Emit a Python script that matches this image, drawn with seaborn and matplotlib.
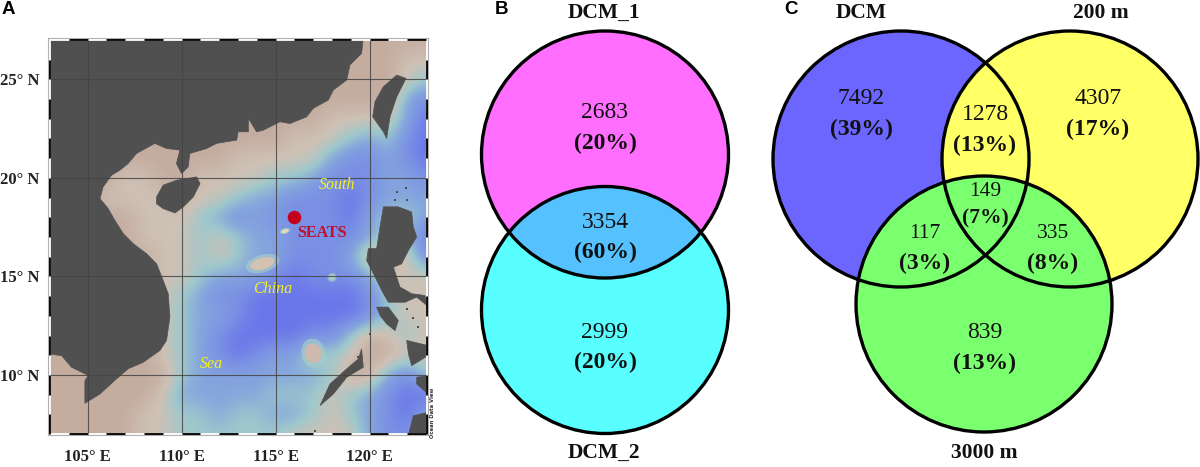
import numpy as np
import seaborn as sns
import matplotlib.pyplot as plt
from matplotlib.patches import Circle, Ellipse, Polygon

sns.set_theme(style='white')
plt.rcParams['font.family'] = ['Liberation Serif', 'DejaVu Sans']

# bathymetry class, 0 = shelf ... 5 = deep basin
depth_27 = [0, 0, 0, 0, 0, 0, 0, 0, 0, 0, 0, 0, 0, 0, 0, 0, 0, 0, 0, 0, 0]
depth_26 = [0, 0, 0, 0, 0, 0, 0, 0, 0, 0, 0, 0, 0, 0, 0, 0, 0, 0, 0, 1, 1]
depth_25 = [0, 0, 0, 0, 0, 0, 0, 0, 0, 0, 0, 0, 0, 0, 0, 0, 0, 0, 0, 1, 2]
depth_24 = [0, 0, 0, 0, 0, 0, 0, 0, 0, 0, 0, 0, 0, 0, 0, 0, 0, 0, 0, 3, 4]
depth_23 = [0, 0, 0, 0, 0, 0, 0, 0, 0, 0, 0, 0, 0, 0, 0, 1, 1, 1, 1, 3, 5]
depth_22 = [0, 0, 0, 0, 0, 0, 0, 0, 0, 0, 0, 0, 0, 1, 1, 1, 2, 3, 2, 4, 5]
depth_21 = [0, 0, 0, 0, 0, 0, 0, 0, 0, 0, 1, 1, 1, 1, 1, 3, 4, 4, 3, 4, 5]
depth_20 = [0, 0, 0, 0, 1, 1, 0, 0, 1, 1, 1, 1, 2, 2, 3, 4, 4, 4, 3, 3, 4]
depth_19 = [0, 0, 0, 1, 1, 1, 1, 0, 1, 1, 2, 3, 3, 4, 4, 4, 5, 4, 3, 3, 3]
depth_18 = [0, 0, 0, 0, 0, 1, 1, 1, 2, 3, 4, 3, 4, 4, 4, 4, 5, 3, 2, 2, 3]
depth_17 = [0, 0, 0, 0, 0, 1, 1, 1, 2, 1, 2, 3, 3, 4, 4, 4, 4, 3, 2, 2, 5]
depth_16 = [0, 0, 0, 0, 0, 0, 1, 1, 2, 1, 2, 3, 3, 4, 4, 4, 3, 0, 0, 1, 4]
depth_15 = [0, 0, 0, 0, 0, 0, 1, 1, 2, 3, 3, 3, 4, 5, 4, 4, 4, 3, 1, 1, 1]
depth_14 = [0, 0, 0, 0, 0, 0, 1, 2, 3, 4, 4, 5, 5, 5, 5, 5, 5, 4, 2, 1, 1]
depth_13 = [0, 0, 0, 0, 0, 0, 1, 2, 3, 3, 4, 5, 5, 5, 5, 5, 5, 4, 2, 1, 1]
depth_12 = [0, 0, 0, 0, 0, 0, 1, 2, 3, 4, 5, 5, 5, 5, 4, 4, 2, 0, 1, 2, 1]
depth_11 = [0, 0, 0, 0, 0, 0, 1, 2, 3, 4, 5, 4, 3, 3, 1, 2, 1, 0, 0, 1, 1]
depth_10 = [0, 0, 0, 0, 0, 0, 0, 2, 3, 3, 3, 3, 3, 3, 3, 2, 0, 0, 3, 4, 2]
depth_09 = [0, 0, 0, 0, 0, 0, 1, 3, 3, 3, 3, 3, 2, 2, 2, 1, 2, 3, 4, 5, 5]
depth_08 = [0, 0, 0, 0, 0, 1, 1, 2, 2, 3, 2, 2, 3, 3, 2, 1, 2, 3, 4, 5, 3]
depth_07 = [0, 0, 0, 0, 0, 1, 1, 2, 2, 2, 2, 2, 2, 1, 1, 1, 1, 3, 4, 4, 3]

# small shoals the one degree grid misses
shoal_lon = [114.3, 115.5, 118.0, 117.0]
shoal_lat = [15.65, 17.3, 14.95, 11.1]
shoal_w = [1.3, 0.4, 0.35, 0.9]
shoal_h = [0.6, 0.2, 0.3, 1.0]
shoal_col = ['#d4c2b2', '#dcdcc0', '#a5cbcb', '#cdb9ae']

# coastlines (lon, lat)
mainland = [(119.66, 27.1), (119.57, 26.32), (118.95, 25.73), (118.78, 24.97), (118.07, 24.46),
            (117.8, 23.95), (117.0, 23.53), (116.65, 23.1), (115.76, 22.76), (115.23, 22.85),
            (114.34, 22.42), (113.99, 22.34), (113.55, 23.02), (113.55, 22.34), (113.01, 22.34),
            (112.93, 21.92), (111.86, 21.75), (111.33, 21.49), (110.44, 21.24), (110.35, 20.56),
            (110.0, 20.22), (109.73, 20.73), (109.91, 21.41), (109.2, 21.49), (108.58, 21.75),
            (107.61, 21.24), (107.16, 20.73), (106.72, 20.39), (106.28, 20.14), (105.83, 19.54),
            (105.66, 18.95), (106.1, 18.44), (106.45, 17.85), (106.9, 17.17), (107.43, 16.66),
            (108.14, 16.15), (108.67, 15.64), (109.02, 14.8), (109.29, 14.12), (109.38, 12.93),
            (109.2, 11.75), (108.85, 11.24), (107.96, 10.64), (107.16, 10.31), (106.54, 9.8),
            (105.66, 9.03), (104.86, 8.56), (104.86, 9.71), (105.04, 9.97), (104.15, 10.39),
            (103.62, 10.98), (102.9, 11.07), (102.9, 27.1)]
hainan = [(108.67, 19.03), (109.02, 19.63), (109.73, 19.88), (110.8, 20.05), (110.98, 19.71),
          (110.62, 19.03), (110.09, 18.53), (109.65, 18.22), (109.02, 18.44), (108.67, 18.69)]
taiwan = [(121.44, 25.22), (121.93, 25.05), (121.44, 24.12), (121.08, 23.1), (120.9, 22.0),
          (120.73, 22.34), (120.16, 23.1), (120.28, 23.86), (120.73, 24.63)]
luzon = [(120.73, 18.53), (121.52, 18.53), (122.23, 18.27), (122.32, 17.51), (122.5, 17.0),
         (122.06, 16.32), (121.7, 15.64), (121.26, 15.47), (121.61, 14.46), (122.23, 14.12),
         (122.94, 14.03), (123.03, 13.53), (122.5, 13.95), (121.88, 13.69), (120.99, 13.69),
         (120.64, 14.29), (120.2, 15.14), (119.84, 15.81), (119.93, 16.41), (120.37, 16.41),
         (120.55, 17.51)]
mindoro = [(120.37, 13.44), (120.99, 13.44), (121.52, 12.76), (121.35, 12.25), (120.9, 12.59),
           (120.55, 13.02)]
palawan = [(119.57, 11.32), (119.66, 10.39), (118.78, 9.88), (118.07, 9.03), (117.36, 8.44),
           (117.89, 9.54), (118.78, 10.31), (119.4, 10.81)]
panay = [(121.97, 11.75), (123.1, 11.49), (123.1, 10.98), (122.23, 10.47), (122.06, 11.07)]
negros = [(122.5, 9.88), (123.1, 9.97), (123.1, 9.03), (122.5, 9.54)]
mindanao = [(122.06, 6.95), (122.32, 7.93), (123.1, 8.1), (123.1, 6.95)]
islets_lon = [121.44, 121.93, 121.97, 121.35, 120.02, 121.97, 122.59, 117.09, 119.4, 122.3]
islets_lat = [19.29, 19.5, 18.9, 18.86, 12.08, 13.36, 12.42, 7.17, 10.9, 12.9]

map_lon_ticks = [105, 110, 115, 120]
map_lat_ticks = [10, 15, 20, 25]
seats_lon = [116]
seats_lat = [18]
sea_names = ['South', 'China', 'Sea']
sea_lon = [118.24, 114.84, 111.61]
sea_lat = [19.63, 14.37, 10.53]

# venn panel B
b_names = ['DCM_1', 'DCM_2']
b_counts = [2683, 3354, 2999]
b_pcts = [20, 60, 20]
# venn panel C
c_names = ['DCM', '200 m', '3000 m']
c_counts = [7492, 1278, 4307, 149, 117, 335, 839]
c_pcts = [39, 13, 17, 7, 3, 8, 13]

fig = plt.figure(figsize=(12, 4.67), dpi=100)
W, H = 1200, 467

# ---- map
ax = fig.add_axes([48 / W, 1 - 435 / H, 380 / W, 397 / H])
depth = np.array([depth_27, depth_26, depth_25, depth_24, depth_23, depth_22, depth_21,
                  depth_20, depth_19, depth_18, depth_17, depth_16, depth_15, depth_14,
                  depth_13, depth_12, depth_11, depth_10, depth_09, depth_08, depth_07])
sea_cmap = sns.blend_palette(['#c4ac9f', '#cec1b5', '#9fc8cc', '#84a4de', '#7a90e4', '#6a76ea'],
                             n_colors=14, as_cmap=True)
# one cell per degree, centred on the whole degree
ax.imshow(depth, cmap=sea_cmap, vmin=0, vmax=5, interpolation='bicubic', aspect='auto',
          extent=(102.5, 123.5, 6.5, 27.5), zorder=1)
for lon, lat, w, h, col in zip(shoal_lon, shoal_lat, shoal_w, shoal_h, shoal_col):
    ax.add_patch(Ellipse((lon, lat), w * 1.4, h * 1.5, angle=15, fc='#a5cbcb', ec='none', alpha=0.7, zorder=1.5))
    ax.add_patch(Ellipse((lon, lat), w, h, angle=15, fc=col, ec='none', zorder=1.6))
for shape in [mainland, hainan, taiwan, luzon, mindoro, palawan, panay, negros, mindanao]:
    ax.add_patch(Polygon(shape, closed=True, fc='#505050', ec='#505050', lw=0.5, zorder=2))
ax.scatter(islets_lon, islets_lat, s=3, color='#505050', marker='s', linewidths=0, zorder=2)

ax.set_xlim(102.9, 123.1)
ax.set_ylim(6.95, 27.1)
for lon in map_lon_ticks:
    ax.axvline(lon, color='#444444', lw=0.8, alpha=0.85, zorder=3)
for lat in map_lat_ticks:
    ax.axhline(lat, color='#444444', lw=0.8, alpha=0.85, zorder=3)

ax.set_xticks(map_lon_ticks)
ax.set_xticklabels([f'{v}° E' for v in map_lon_ticks], fontsize=12, fontweight='bold', color='#222222')
ax.set_yticks(map_lat_ticks)
ax.set_yticklabels([f'{v}° N' for v in map_lat_ticks], fontsize=12, fontweight='bold', color='#222222')
ax.tick_params(axis='x', length=0, pad=10)
ax.tick_params(axis='y', length=0, pad=6)
for s in ax.spines.values():
    s.set_color('#b0b0b0')
    s.set_linewidth(0.8)
    s.set_zorder(6)

# dashed black and white frame, one degree per dash
frame_top, frame_bottom = 27.05, 7.0
frame_left, frame_right = 102.95, 123.05
for y in [frame_top, frame_bottom]:
    ax.plot([102.9, 123.1], [y, y], color='white', lw=2, solid_capstyle='butt', zorder=4)
for x in [frame_left, frame_right]:
    ax.plot([x, x], [6.95, 27.1], color='white', lw=2, solid_capstyle='butt', zorder=4)
for start in range(104, 124, 2):
    for y in [frame_top, frame_bottom]:
        ax.plot([start, min(start + 1, 123.1)], [y, y], color='black', lw=2, solid_capstyle='butt', zorder=5)
for start in range(7, 27, 2):
    for x in [frame_left, frame_right]:
        ax.plot([x, x], [start, start + 1], color='black', lw=2, solid_capstyle='butt', zorder=5)

sns.scatterplot(x=seats_lon, y=seats_lat, s=95, color='#c4001a', linewidth=0, ax=ax, zorder=7, legend=False)
ax.text(117.45, 17.22, 'SEATS', color='#c0102a', fontsize=11.5, fontweight='bold', ha='center', va='center', zorder=7)
for name, lon, lat in zip(sea_names, sea_lon, sea_lat):
    ax.text(lon, lat, name, color='#f5f020', fontsize=11.5, style='italic', ha='center', va='center', zorder=7)
ax.text(123.33, 8.1, 'Ocean Data View', fontsize=3.8, fontweight='bold', rotation=90, ha='center', va='center',
        family=['DejaVu Sans'], color='#333333', clip_on=False)
ax.set_xlabel('')
ax.set_ylabel('')

# ---- venn panels, drawn on an overlay in image pixels
ov = fig.add_axes([0, 0, 1, 1])
ov.set_xlim(0, W)
ov.set_ylim(H, 0)
ov.axis('off')
ov.patch.set_alpha(0)

r_b = 123.5
top = (605, 154.5)
bottom = (605, 310)
ov.add_patch(Circle(top, r_b, fc='#ff6eff', ec='none'))
ov.add_patch(Circle(bottom, r_b, fc='#59ffff', ec='none'))
overlap = Circle(top, r_b, fc='#55c1ff', ec='none')
ov.add_patch(overlap)
overlap.set_clip_path(Circle(bottom, r_b, transform=ov.transData))
for c in [top, bottom]:
    ov.add_patch(Circle(c, r_b, fc='none', ec='black', lw=2.4, zorder=3))

r_c = 128
c_dcm = (901, 159)
c_200 = (1070, 159)
c_3000 = (984, 304)
for c, col in zip([c_dcm, c_200, c_3000], ['#6c66ff', '#ffff66', '#7aff6e']):
    ov.add_patch(Circle(c, r_c, fc=col, ec='none'))
for c in [c_dcm, c_200, c_3000]:
    ov.add_patch(Circle(c, r_c, fc='none', ec='black', lw=2.4, zorder=3))


def label(x, y, n, p, size=17, psize=17, gap=30):
    ov.text(x, y + 2, str(n), fontsize=size, ha='center', va='center', color='#111111', zorder=4)
    ov.text(x, y + 2 + gap, f'({p}%)', fontsize=psize, fontweight='bold',
            ha='center', va='center', color='#111111', zorder=4)


for y, n, p in zip([111, 220, 330], b_counts, b_pcts):
    label(605, y, n, p)
c_x = [861, 985, 1098, 985, 925, 1053, 985]
c_y = [97, 113, 97, 190, 231, 231, 331]
c_size = [17, 17, 17, 15.5, 15.5, 15.5, 17]
c_psize = [17, 17, 17, 15.5, 17, 17, 17]
c_gap = [30, 30, 30, 26, 30, 30, 30]
for x, y, n, p, fs, ps, g in zip(c_x, c_y, c_counts, c_pcts, c_size, c_psize, c_gap):
    label(x, y, n, p, fs, ps, g)

for (x, y), name in zip([(604, 13), (604, 453)], b_names):
    ov.text(x, y, name, fontsize=15.5, fontweight='bold', ha='center', va='center', color='#111111')
for (x, y), name in zip([(861, 13), (1101, 13), (984, 453)], c_names):
    ov.text(x, y, name, fontsize=15.5, fontweight='bold', ha='center', va='center', color='#111111')

for x, letter in zip([8, 501, 791], ['A', 'B', 'C']):
    ov.text(x, 10, letter, fontsize=13.5, fontweight='bold', ha='center', va='center',
            family=['Liberation Sans'], color='black')

fig.savefig('out.png', dpi=100)
